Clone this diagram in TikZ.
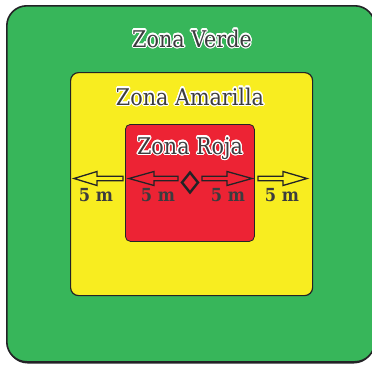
\documentclass[tikz,border=0pt]{standalone}
\usepackage{fontspec}
\setmainfont{DejaVu Serif Condensed}
\usepackage{contour}
\contourlength{1.2pt}
\contournumber{16}
\definecolor{zgreen}{RGB}{55,182,90}
\definecolor{zyellow}{RGB}{248,237,32}
\definecolor{zred}{RGB}{237,35,52}
\definecolor{ztext}{RGB}{60,60,62}
\definecolor{zline}{RGB}{35,35,38}
\tikzset{
  zone/.style={draw=zline, line width=1.2pt, inner sep=0pt, anchor=north west},
  zonelabel/.style={font=\fontsize{23}{25}\selectfont, text=ztext, inner sep=0pt, anchor=base},
  dist/.style={font=\bfseries\fontsize{18}{20}\selectfont, text=ztext, inner sep=0pt, anchor=base},
  arr/.style={draw=zline, line width=1.3pt, line join=miter},
}
\newcommand{\zlab}[1]{\contour{white}{#1}}
\begin{document}
\begin{tikzpicture}[x=1pt,y=-1pt]
\useasboundingbox (0,0) rectangle (372,364);
% shadow of outer zone
\fill[zline,rounded corners=20pt] (7.5,6.5) rectangle (374,363.5);
\node[zone, fill=zgreen, rounded corners=20pt, minimum width=368pt, minimum height=356pt, line width=1.6pt] (verde) at (6,5) {};
\node[zone, fill=zyellow, rounded corners=8pt, minimum width=242pt, minimum height=223pt] (amarilla) at (70,72) {};
\node[zone, fill=zred, rounded corners=5pt, minimum width=129pt, minimum height=117pt, line width=0.8pt] (roja) at (125,124) {};
\node[zonelabel] (tverde) at (192,47) {\zlab{Zona Verde}};
\node[zonelabel] (tamarilla) at (190,105) {\zlab{Zona Amarilla}};
\node[zonelabel] (troja) at (190,154) {\zlab{Zona Roja}};
% arrows
\def\ay{178.5}
% outer left
\draw[arr] (74,\ay) -- (97,\ay-7) -- (97,\ay-2.3) -- (123,\ay-2.3) -- (123,\ay+2.3) -- (97,\ay+2.3) -- (97,\ay+7) -- cycle;
% inner left
\draw[arr] (129,\ay) -- (154,\ay-7) -- (154,\ay-2.3) -- (178,\ay-2.3) -- (178,\ay+2.3) -- (154,\ay+2.3) -- (154,\ay+7) -- cycle;
% inner right
\draw[arr] (252,\ay) -- (227,\ay-7) -- (227,\ay-2.3) -- (202,\ay-2.3) -- (202,\ay+2.3) -- (227,\ay+2.3) -- (227,\ay+7) -- cycle;
% outer right
\draw[arr] (307,\ay) -- (283,\ay-7) -- (283,\ay-2.3) -- (258,\ay-2.3) -- (258,\ay+2.3) -- (283,\ay+2.3) -- (283,\ay+7) -- cycle;
% diamond
\draw[zline, line width=2.4pt, line join=miter] (190,172.5) -- (198,182.5) -- (190,192.5) -- (182,182.5) -- cycle;
\node[dist] (d1) at (96,201) {5 m};
\node[dist] (d2) at (158,201) {5 m};
\node[dist] (d3) at (228,201) {5 m};
\node[dist] (d4) at (282,201) {5 m};
\end{tikzpicture}
\end{document}
